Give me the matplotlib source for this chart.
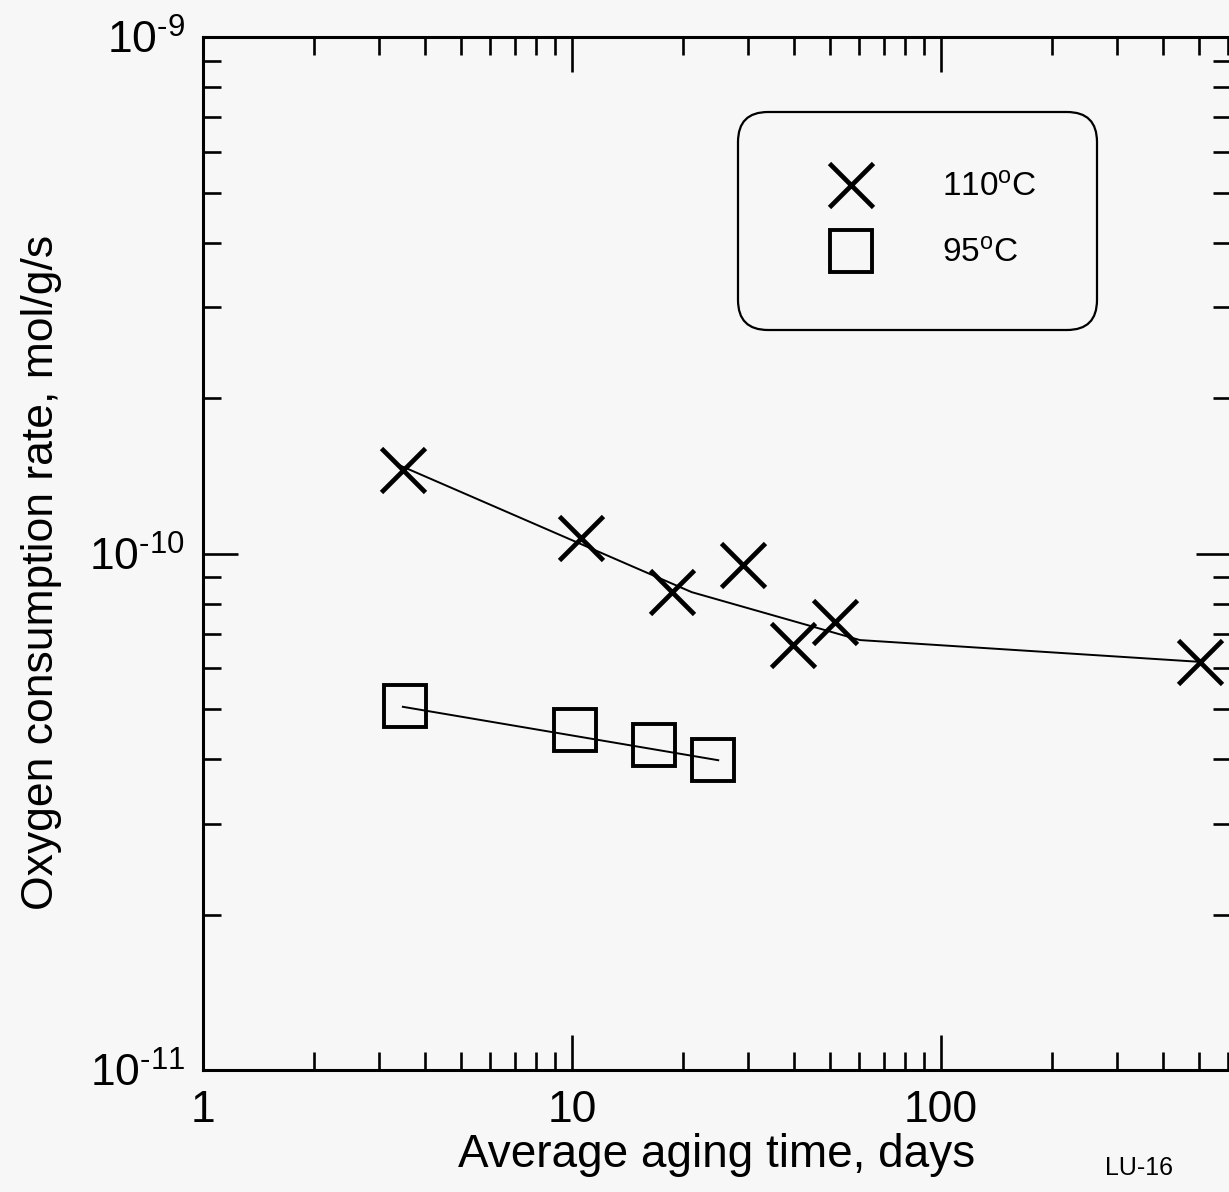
import matplotlib
matplotlib.use("Agg")
import matplotlib.pyplot as plt
from matplotlib.lines import Line2D
from matplotlib.ticker import LogLocator, NullFormatter

plt.rcParams['font.family'] = ['Liberation Sans', 'DejaVu Sans']
plt.rcParams['mathtext.fontset'] = 'custom'
plt.rcParams['mathtext.rm'] = 'Liberation Sans'
plt.rcParams['mathtext.it'] = 'Liberation Sans:italic'
plt.rcParams['mathtext.bf'] = 'Liberation Sans:bold'

# measured points
days_110 = [3.48, 10.6, 18.7, 29.1, 39.7, 51.6, 504]
rate_110 = [1.45e-10, 1.07e-10, 8.42e-11, 9.5e-11, 6.65e-11, 7.37e-11, 6.17e-11]
days_95 = [3.53, 10.2, 16.7, 24.1]
rate_95 = [5.07e-11, 4.55e-11, 4.26e-11, 3.98e-11]

# fitted curves drawn through the data
fit_days_110 = [3.35, 21.1, 60.3, 504]
fit_rate_110 = [1.49e-10, 8.42e-11, 6.80e-11, 6.17e-11]
fit_days_95 = [3.48, 24.9]
fit_rate_95 = [5.05e-11, 3.98e-11]

x_ticks = [1, 10, 100]
x_tick_labels = ['1', '10', '100']
y_ticks = [1e-11, 1e-10, 1e-9]
y_tick_labels = [r'$10^{\text{-}11}$', r'$10^{\text{-}10}$', r'$10^{\text{-}9}$']
legend_labels = [r'110$^{\mathrm{o}}$C', r'95$^{\mathrm{o}}$C']

bg = '#f7f7f7'
fig = plt.figure(figsize=(12.29, 11.92), dpi=100, facecolor=bg)
ax = fig.add_axes([0.1652, 0.1023, 0.8365, 0.8666], facecolor=bg)

ax.plot(fit_days_110, fit_rate_110, color='black', lw=1.4)
ax.plot(fit_days_95, fit_rate_95, color='black', lw=1.4)
ax.plot(days_110, rate_110, ls='none', marker='x', ms=31, mew=3.4, color='black')
ax.plot(days_95, rate_95, ls='none', marker='s', ms=30, mew=2.8, mfc='none', mec='black')

ax.set_xscale('log')
ax.set_yscale('log')
ax.set_xlim(1, 611)
ax.set_ylim(1e-11, 1e-9)

ax.set_xticks(x_ticks, x_tick_labels)
ax.set_yticks(y_ticks, y_tick_labels)
ax.xaxis.set_minor_locator(LogLocator(base=10, subs=range(2, 10)))
ax.yaxis.set_minor_locator(LogLocator(base=10, subs=range(2, 10)))
ax.xaxis.set_minor_formatter(NullFormatter())
ax.yaxis.set_minor_formatter(NullFormatter())

ax.tick_params(which='both', direction='in', top=True, right=True, width=1.9, colors='black')
ax.tick_params(which='major', length=25, labelsize=32)
ax.tick_params(which='minor', length=13)
ax.tick_params(axis='x', which='major', pad=14)
ax.tick_params(axis='y', which='major', pad=13)

for s in ax.spines.values():
    s.set_linewidth(2.2)

ax.set_xlabel('Average aging time, days', fontsize=33)
ax.set_ylabel('Oxygen consumption rate, mol/g/s', fontsize=32)
ax.xaxis.set_label_coords(0.5, -0.061)
ax.yaxis.set_label_coords(-0.137, 0.482)

handles = [
    Line2D([], [], ls='none', marker='x', ms=31, mew=3.4, color='black'),
    Line2D([], [], ls='none', marker='s', ms=30, mew=2.8, mfc='none', mec='black'),
]
leg = ax.legend(handles, legend_labels, loc='upper left', bbox_to_anchor=(0.520, 0.927),
                borderaxespad=0, fontsize=24, borderpad=1.81, handlelength=3.2,
                handletextpad=1.11, labelspacing=1.05, frameon=True, fancybox=True,
                framealpha=1, facecolor=bg, edgecolor='black')
leg.get_frame().set_linewidth(1.6)
leg.get_frame().set_boxstyle('round', pad=0, rounding_size=0.9)

fig.text(1139 / 1229, 1 - 1168 / 1192, 'LU-16', fontsize=18, ha='center', va='center')

fig.savefig('out.png', dpi=100, facecolor=bg)
